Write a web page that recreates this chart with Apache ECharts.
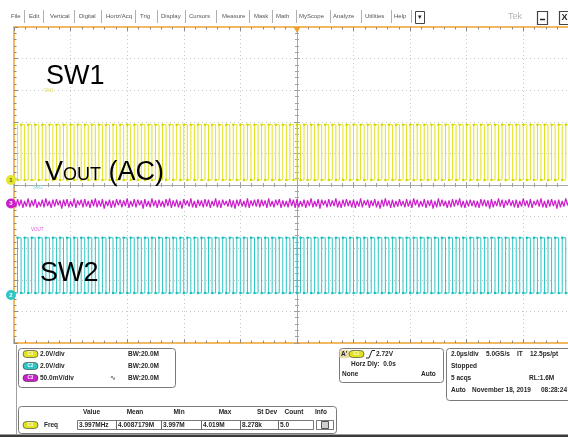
<!DOCTYPE html>
<html><head><meta charset="utf-8">
<script src="https://cdn.jsdelivr.net/npm/echarts@6.0.0/dist/echarts.min.js"></script>
<style>html,body{margin:0;padding:0;background:#fff;}#c{width:568px;height:437px;}</style>
</head><body><div id="c"></div>
<script>
// ---------------- data ----------------
const menuItems = ['File','Edit','Vertical','Digital','Horiz/Acq','Trig','Display','Cursors','Measure','Mask','Math','MyScope','Analyze','Utilities','Help'];
const traceLabels = ['SW1', 'V', 'OUT', ' (AC)', 'SW2'];
const swSampleUs = 0.125;      // one sample per half switching period
const sw1Volts = [
 3.5,0,3.5,0,3.5,0,3.5,0,3.5,0,3.5,0,3.5,0,3.5,0,
 3.5,0,3.5,0,3.5,0,3.5,0,3.5,0,3.5,0,3.5,0,3.5,0,
 3.5,0,3.5,0,3.5,0,3.5,0,3.5,0,3.5,0,3.5,0,3.5,0,
 3.5,0,3.5,0,3.5,0,3.5,0,3.5,0,3.5,0,3.5,0,3.5,0,
 3.5,0,3.5,0,3.5,0,3.5,0,3.5,0,3.5,0,3.5,0,3.5,0,
 3.5,0,3.5,0,3.5,0,3.5,0,3.5,0,3.5,0,3.5,0,3.5,0,
 3.5,0,3.5,0,3.5,0,3.5,0,3.5,0,3.5,0,3.5,0,3.5,0,
 3.5,0,3.5,0,3.5,0,3.5,0,3.5,0,3.5,0,3.5,0,3.5,0,
 3.5,0,3.5,0,3.5,0,3.5,0,3.5,0,3.5,0,3.5,0,3.5,0,
 3.5,0,3.5,0,3.5,0,3.5,0,3.5,0,3.5,0,3.5,0,3.5,0,
 3.5
];
const sw2Volts = [
 0,3.5,0,3.5,0,3.5,0,3.5,0,3.5,0,3.5,0,3.5,0,3.5,
 0,3.5,0,3.5,0,3.5,0,3.5,0,3.5,0,3.5,0,3.5,0,3.5,
 0,3.5,0,3.5,0,3.5,0,3.5,0,3.5,0,3.5,0,3.5,0,3.5,
 0,3.5,0,3.5,0,3.5,0,3.5,0,3.5,0,3.5,0,3.5,0,3.5,
 0,3.5,0,3.5,0,3.5,0,3.5,0,3.5,0,3.5,0,3.5,0,3.5,
 0,3.5,0,3.5,0,3.5,0,3.5,0,3.5,0,3.5,0,3.5,0,3.5,
 0,3.5,0,3.5,0,3.5,0,3.5,0,3.5,0,3.5,0,3.5,0,3.5,
 0,3.5,0,3.5,0,3.5,0,3.5,0,3.5,0,3.5,0,3.5,0,3.5,
 0,3.5,0,3.5,0,3.5,0,3.5,0,3.5,0,3.5,0,3.5,0,3.5,
 0,3.5,0,3.5,0,3.5,0,3.5,0,3.5,0,3.5,0,3.5,0,3.5,
 0
];
const voutSampleUs = 0.0625;
const voutMilliVolts = [
 5,-6,7,-4,6,-7,4,-5,8,-6,5,-4,7,-7,3,-5,6,-6,8,-4,
 4,-7,6,-5,7,-3,5,-8,6,-4,7,-6,4,-5,8,-7,5,-3,6,-6,
 7,-5,4,-7,6,-4,8,-6,5,-5,7,-8,4,-4,6,-7,5,-6,7,-3,
 6,-6,5,-4,8,-7,4,-5,7,-6,6,-3,5,-8,7,-5,4,-6,8,-4,
 5,-7,6,-5,4,-6,7,-4,8,-7,5,-5,6,-6,4,-8,7,-3,5,-5,
 8,-6,4,-7,6,-4,5,-6,7,-5,6,-7,4,-4,8,-6,5,-7,6,-3,
 4,-5,7,-6,5,-8,6,-4,7,-5,4,-6,8,-7,5,-4,6,-5,7,-6,
 6,-4,5,-7,8,-5,4,-6,6,-3,7,-7,5,-5,4,-6,8,-4,6,-7,
 7,-6,4,-5,6,-7,5,-4,8,-6,4,-5,7,-8,6,-3,5,-6,7,-5,
 5,-4,8,-6,4,-7,6,-5,7,-4,5,-6,6,-7,4,-5,8,-6,5,-3,
 6,-7,5,-4,7,-6,4,-8,6,-5,8,-4,5,-7,6,-6,4,-5,7,-4,
 4,-6,7,-5,5,-7,8,-3,6,-6,4,-5,7,-7,5,-4,6,-8,4,-6,
 8,-5,6,-4,4,-7,5,-6,7,-5,6,-3,8,-6,4,-7,5,-5,6,-4,
 5,-6,4,-7,7,-4,6,-5,5,-8,7,-6,4,-4,8,-5,6,-7,5,-3,
 7,-4,5,-6,6,-7,4,-5,8,-4,5,-6,7,-7,4,-3,6,-5,8,-6,
 4,-7,6,-5,7,-4,5,-8,6,-6,4,-5,8,-3,7,-6,5,-4,6,-7,
 5
];
const chanRows = [['C1','2.0V/div','BW:20.0M'],['C2','2.0V/div','BW:20.0M'],['C3','50.0mV/div','BW:20.0M']];
const measHeaders = ['Value','Mean','Min','Max','St Dev','Count','Info'];
const measValues = ['3.997MHz','4.0087179M','3.997M','4.019M','8.278k','5.0'];
const trigTexts = ["A'", '2.72V', 'Horz Dly:  0.0s', 'None', 'Auto'];
const acqTexts = [['2.0\u00b5s/div','5.0GS/s','IT','12.5ps/pt'],['Stopped'],['5 acqs','RL:1.6M'],['Auto','November 18, 2019','08:28:24']];

// ---------------- layout / styling ----------------
const F = 'Liberation Sans, Arial, sans-serif';
const ORANGE = '#f3b961';
const YEL = '#e2e21e', CYA = '#2cc6c6', MAG = '#cc1fcc';
const X_MIN = -10, X_MAX = 9.58;   // the screenshot is cropped just before the right graticule edge
const ch = { sw1:{scale:2, off:0.16}, sw2:{scale:2, off:-3.42}, vout:{scale:50, off:-0.585} };
const toPts = (arr, dt, c) => arr.map((v, i) => [X_MIN + i * dt, c.off + v / c.scale]);

const gridRect = {left:14, right:0, top:27, height:316};
const hide = {show:false};
function borderX(pos, split){
  return {gridIndex:0, type:'value', min:X_MIN, max:X_MAX, interval:2, position:pos,
    axisLine:{onZero:false, lineStyle:{color:ORANGE, width:2}},
    axisTick:{inside:true, length:4, lineStyle:{color:'#8a8a8a'}},
    minorTick:{show:true, splitNumber:5, length:2.5, lineStyle:{color:'#8a8a8a'}},
    axisLabel:hide, splitLine:{show:split, lineStyle:{color:'#c9c9c9', type:[1,3]}}};
}
function centerAxis(kind, gi, inside){
  return {gridIndex:gi, type:'value', min: kind==='x'?X_MIN:-5, max: kind==='x'?X_MAX:5, interval: kind==='x'?2:1,
    axisLine:{onZero:true, lineStyle:{color:'#a8a8a8', width:1}},
    axisTick:{inside:inside, length:3, lineStyle:{color:'#a0a0a0'}},
    minorTick:{show:true, splitNumber:5, length:2, lineStyle:{color:'#a0a0a0'}},
    axisLabel:hide, splitLine:hide};
}
function T(x, y, text, o){
  o = o || {};
  return {type:'text', x:x, y:y, z:o.z||50, style:{text:text, fontSize:o.size||6.5, fontFamily:F,
    fontWeight:o.weight||'bold', fill:o.color||'#262626', align:o.align||'left', verticalAlign:'middle'}};
}
function R(x, y, w, h, o){
  o = o || {};
  return {type:'rect', z:o.z||40, shape:{x:x, y:y, width:w, height:h, r:o.r||0},
    style:{fill:o.fill||'#fff', stroke:o.stroke||'#7a7a7a', lineWidth:o.lw||1}};
}
function L(x1, y1, x2, y2, c, w){
  return {type:'line', z:45, shape:{x1:x1,y1:y1,x2:x2,y2:y2}, style:{stroke:c||'#999', lineWidth:w||1}};
}
function badge(x, y, label, color){
  return [R(x, y-3.5, 15, 7, {r:3.5, fill:color, stroke:'#333', lw:0.6, z:46}),
          T(x+7.5, y, label, {size:4.5, color:'#fff', align:'center', z:47})];
}

const g = [];
// menu bar
const menuX = [11,29,50,79,106,140,161,189,222,254,276,299,333,365,394];
const sepX = [24,43,74,101,135,157,185,216,249,272,296,330,361,391,411];
menuItems.forEach((m,i)=>g.push(T(menuX[i], 16.5, m, {size:6, weight:'normal', color:'#555'})));
sepX.forEach(x=>g.push(L(x+0.5, 10, x+0.5, 23, '#b0b0b0', 1)));
g.push(R(415.5, 11.5, 9, 12, {stroke:'#444', lw:1}));
g.push(T(420, 17.5, '\u25BE', {size:7, color:'#222', align:'center', weight:'normal'}));
g.push(T(508, 17, 'Tek', {size:9, weight:'normal', color:'#b5b5b5'}));
g.push(R(537.5, 11.5, 10, 13, {stroke:'#444', lw:1.2}));
g.push(L(540, 19.5, 545, 19.5, '#222', 1.5));
g.push(R(559.5, 11.5, 10, 13, {stroke:'#444', lw:1.2}));
g.push(T(564.5, 18, 'X', {size:9, color:'#222', align:'center'}));

// big trace titles
g.push(T(46, 77, traceLabels[0], {size:27, weight:'normal', color:'#000', z:100}));
g.push(T(45, 172.5, traceLabels[1], {size:27, weight:'normal', color:'#000', z:100}));
g.push(T(63, 175.5, traceLabels[2], {size:18, weight:'normal', color:'#000', z:100}));
g.push(T(101, 172.5, traceLabels[3], {size:27, weight:'normal', color:'#000', z:100}));
g.push(T(40, 274, traceLabels[4], {size:27, weight:'normal', color:'#000', z:100}));
// tiny channel labels
g.push(T(44, 91, 'SW1', {size:4.5, weight:'normal', color:'#dede60'}));
g.push(T(33, 187.5, 'SW2', {size:4.5, weight:'normal', color:'#7fd8d8'}));
g.push(T(31, 229.5, 'VOUT', {size:4.5, weight:'normal', color:'#dd55dd'}));

// bottom frame
g.push(L(16.5, 345, 16.5, 435, '#a0a0a0', 1));
g.push(R(0, 435, 568, 2, {fill:'#3a3a3a', stroke:'#3a3a3a', lw:0}));

// channel box
g.push(R(18.5, 348.5, 157, 39, {r:3}));
const chColors = [YEL, CYA, MAG];
chanRows.forEach((r,i)=>{
  const y = 354 + i*12;
  g.push(...badge(23, y, r[0], chColors[i]));
  g.push(T(40, y, r[1]));
  g.push(T(128, y, r[2]));
});
g.push(T(110, 378, '\u223F', {size:7, weight:'normal'}));

// measurement table
g.push(R(18.5, 406.5, 318, 27, {r:3}));
const headC = [91.5,135,179,225,267,294,321];
measHeaders.forEach((h,i)=>g.push(T(headC[i], 412, h, {align:'center'})));
g.push(...badge(23, 425, 'C1', YEL));
g.push(T(44, 425, 'Freq'));
const cellX = [77,116,161,201,240,278,313];
measValues.forEach((v,i)=>{
  g.push(R(cellX[i]+0.5, 420.5, cellX[i+1]-cellX[i], 9, {stroke:'#555', lw:0.8}));
  g.push(T(cellX[i]+2, 425, v));
});
g.push(R(316.5, 420.5, 17, 9, {stroke:'#555', lw:0.8}));
g.push(R(321.5, 421.5, 7, 7, {fill:'#cfcfcf', stroke:'#333', lw:0.8}));

// trigger box
g.push(R(339.5, 348.5, 104, 34, {r:3}));
g.push(R(340, 350.5, 8.5, 7, {fill:'#e9dca8', stroke:'#e9dca8', lw:0}));
g.push(T(341, 354, trigTexts[0]));
g.push(...badge(349, 354, 'C1', YEL));
g.push({type:'polyline', z:46, shape:{points:[[366,358],[369,358],[372,350.5],[375,350.5]]}, style:{stroke:'#222', lineWidth:1, fill:null}});
g.push(T(376, 354, trigTexts[1]));
g.push(T(351, 364, trigTexts[2]));
g.push(T(342, 374, trigTexts[3]));
g.push(T(421, 374, trigTexts[4]));

// acquisition box
g.push(R(446.5, 348.5, 130, 52, {r:3}));
const acqX = [[451,486,517,530],[451],[451,529],[451,472,541]];
acqTexts.forEach((row,ri)=>row.forEach((t,ci)=>g.push(T(acqX[ri][ci], 354 + ri*12, t))));

const markerLabel = (txt, c) => ({show:true, position:'inside', formatter:txt, fontSize:6, fontWeight:'bold', color:c, fontFamily:F});

const option = {
  animation:false,
  backgroundColor:'#fff',
  grid:[gridRect, gridRect, gridRect],
  xAxis:[borderX('bottom', true), borderX('top', false), centerAxis('x',1,true), centerAxis('x',2,false)],
  yAxis:[
    {gridIndex:0, type:'value', min:-5, max:5, interval:1, position:'left',
     axisLine:{onZero:false, lineStyle:{color:ORANGE, width:2}},
     axisTick:{inside:true, length:4, lineStyle:{color:'#8a8a8a'}},
     minorTick:{show:true, splitNumber:5, length:2.5, lineStyle:{color:'#8a8a8a'}},
     axisLabel:hide, splitLine:{show:true, lineStyle:{color:'#c9c9c9', type:[1,3]}}},
    centerAxis('y',1,true), centerAxis('y',2,false)
  ],
  series:[
    {type:'line', name:'VOUT', xAxisIndex:0, yAxisIndex:0, data:toPts(voutMilliVolts, voutSampleUs, ch.vout),
     showSymbol:false, lineStyle:{color:MAG, width:1.2}, z:3,
     markPoint:{silent:true, data:[{coord:[X_MIN, ch.vout.off], symbol:'circle', symbolSize:10, symbolOffset:[-3,0],
        itemStyle:{color:MAG}, label:markerLabel('3','#fff')}]}},
    {type:'line', name:'SW2', xAxisIndex:0, yAxisIndex:0, data:toPts(sw2Volts, swSampleUs, ch.sw2), step:'end',
     showSymbol:true, showAllSymbol:true, symbol:'circle', symbolSize:2.5, itemStyle:{color:'#1fbcbc'},
     lineStyle:{color:CYA, width:1}, z:4,
     markPoint:{silent:true, data:[{coord:[X_MIN, ch.sw2.off], symbol:'circle', symbolSize:10, symbolOffset:[-3,2],
        itemStyle:{color:CYA}, label:markerLabel('2','#fff')}]}},
    {type:'line', name:'SW1', xAxisIndex:0, yAxisIndex:0, data:toPts(sw1Volts, swSampleUs, ch.sw1), step:'end',
     showSymbol:true, showAllSymbol:true, symbol:'circle', symbolSize:2.5, itemStyle:{color:'#d6d600'},
     lineStyle:{color:YEL, width:1}, z:5,
     markPoint:{silent:true, data:[
        {coord:[X_MIN, ch.sw1.off], symbol:'circle', symbolSize:10, symbolOffset:[-3,0],
         itemStyle:{color:'#e6e62a'}, label:markerLabel('1','#555')},
        {coord:[0, 5], symbol:'triangle', symbolRotate:180, symbolSize:[7,6], symbolOffset:[0,3],
         itemStyle:{color:'#f0a02a'}, label:{show:false}}]}}
  ],
  graphic:{elements:g}
};
const chart = echarts.init(document.getElementById('c'), null, {renderer:'canvas'});
chart.setOption(option);
</script>
</body></html>
